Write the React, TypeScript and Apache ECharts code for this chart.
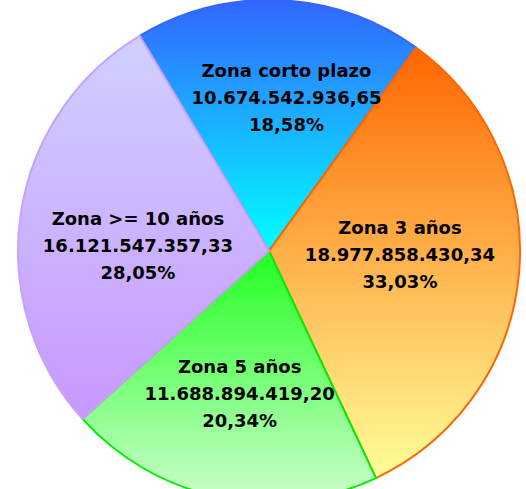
import React, { useEffect, useRef } from "react";
import * as echarts from "echarts";

const categories = ["Zona corto plazo", "Zona 3 años", "Zona 5 años", "Zona >= 10 años"];
const values = [10674542936.65, 18977858430.34, 11688894419.2, 16121547357.33];

const gradients = [
  ["#3366ff", "#00ffff"],
  ["#ff6600", "#ffff99"],
  ["#22ff22", "#ccffcc"],
  ["#d0d0ff", "#c898ff"],
];
const borders = ["#3366ff", "#ff6600", "#00ee00", "#c9a0ff"];
const labelShift = [
  [12, -25],
  [3, -8],
  [-4, 17],
  [-4, 13],
];

function fmt(n: number): string {
  const [i, d] = n.toFixed(2).split(".");
  return i.replace(/\B(?=(\d{3})+(?!\d))/g, ".") + "," + d;
}

export default function App() {
  const ref = useRef<HTMLDivElement>(null);
  useEffect(() => {
    if (!ref.current) return;
    const chart = echarts.init(ref.current, null, { renderer: "svg" });
    chart.setOption({
      animation: false,
      series: [
        {
          type: "pie",
          center: [269, 251],
          radius: 251,
          startAngle: 121,
          clockwise: true,
          data: categories.map((name, i) => ({
            name,
            value: values[i],
            itemStyle: {
              color: new echarts.graphic.LinearGradient(0, 0, 0, 1, [
                { offset: 0, color: gradients[i][0] },
                { offset: 1, color: gradients[i][1] },
              ]),
              borderColor: borders[i],
              borderWidth: 2,
            },
          })),
          label: {
            show: true,
            position: "inside",
            color: "#000",
            fontFamily: "DejaVu Sans, Verdana, sans-serif",
            fontWeight: "bold",
            fontSize: 18,
            lineHeight: 27,
            align: "center",
            formatter: (p: any) =>
              `${p.name}\n${fmt(p.value)}\n${p.percent.toFixed(2).replace(".", ",")}%`,
          },
          labelLine: { show: false },
          labelLayout: (p: any) => ({
            dx: labelShift[p.dataIndex][0],
            dy: labelShift[p.dataIndex][1],
          }),
          emphasis: { disabled: true },
        },
      ],
    });
    return () => chart.dispose();
  }, []);
  return (
    <div
      ref={ref}
      style={{ position: "fixed", left: 0, top: 0, width: 526, height: 489, background: "#fff" }}
    />
  );
}
